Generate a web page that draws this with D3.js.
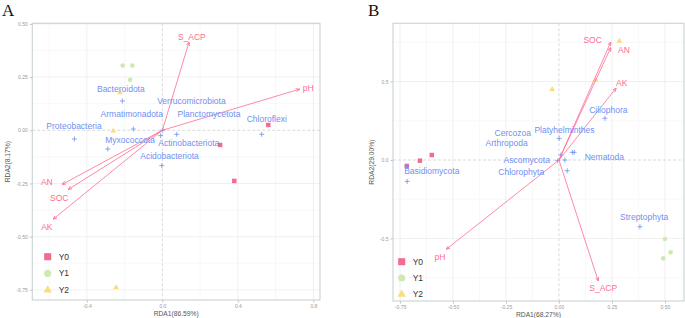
<!DOCTYPE html>
<html><head><meta charset="utf-8">
<script src="https://cdn.jsdelivr.net/npm/d3@7"></script>
<style>
body{margin:0;background:#fff;}
svg{display:block;font-family:"Liberation Sans",Arial,sans-serif;}
</style></head>
<body><svg id="chart" width="685" height="318"></svg>
<script>
// ---------- Panel A data ----------
const aSampleGroup = ["Y0","Y0","Y0","Y1","Y1","Y1","Y2","Y2","Y2"];
const aSampleX = [0.561, 0.306, 0.381, -0.210, -0.159, -0.171, -0.224, -0.260, -0.245];
const aSampleY = [0.025, -0.069, -0.238, 0.304, 0.304, 0.237, 0.177, -0.003, -0.739];
const aEnvNames = ["S_ACP","pH","AN","SOC","AK"];
const aEnvX = [0.141, 0.726, -0.530, -0.498, -0.577];
const aEnvY = [0.414, 0.193, -0.254, -0.278, -0.417];
const aEnvLabelX = [0.156, 0.772, -0.612, -0.546, -0.612];
const aEnvLabelY = [0.440, 0.199, -0.242, -0.317, -0.456];
const aSpecies = ["Bacteroidota","Verrucomicrobiota","Armatimonadota","Planctomycetota","Chloroflexi","Proteobacteria","Myxococcota","Actinobacteriota","Acidobacteriota"];
const aSpeciesX = [-0.212, 0.002, -0.154, 0.076, 0.526, -0.466, -0.289, -0.009, -0.003];
const aSpeciesY = [0.138, 0.001, 0.006, -0.019, -0.019, -0.041, -0.088, -0.025, -0.166];
const aSpeciesLabelX = [-0.220, 0.154, -0.162, 0.247, 0.553, -0.468, -0.171, 0.140, 0.038];
const aSpeciesLabelY = [0.193, 0.139, 0.075, 0.075, 0.052, 0.022, -0.046, -0.061, -0.121];
const aXTicks = [-0.4, 0.0, 0.4, 0.8];
const aXTickLabels = ["-0.4","0.0","0.4","0.8"];
const aXMinor = [-0.6, -0.2, 0.2, 0.6];
const aYTicks = [-0.75, -0.5, -0.25, 0.0, 0.25, 0.5];
const aYTickLabels = ["-0.75","-0.50","-0.25","0.00","0.25","0.50"];
const aYMinor = [-0.625, -0.375, -0.125, 0.125, 0.375];
const aXDomain = [-0.689, 0.835];
const aYDomain = [-0.798, 0.503];
const aXTitle = "RDA1(86.59%)";
const aYTitle = "RDA2(8.17%)";

// ---------- Panel B data ----------
const bSampleGroup = ["Y0","Y0","Y0","Y1","Y1","Y1","Y2","Y2","Y2"];
const bSampleX = [-0.656, -0.600, -0.718, 0.500, 0.527, 0.492, 0.285, 0.173, -0.032];
const bSampleY = [-0.004, 0.032, -0.038, -0.503, -0.588, -0.626, 0.758, 0.510, 0.450];
const bEnvNames = ["SOC","AN","AK","pH","S_ACP"];
const bEnvX = [0.244, 0.244, 0.269, -0.530, 0.185];
const bEnvY = [0.750, 0.715, 0.457, -0.567, -0.769];
const bEnvLabelX = [0.159, 0.307, 0.296, -0.561, 0.209];
const bEnvLabelY = [0.764, 0.701, 0.489, -0.620, -0.813];
const bSpecies = ["Ciliophora","Platyhelminthes","Cercozoa","Arthropoda","Nematoda","","Ascomycota","Chlorophyta","Basidiomycota","","Streptophyta"];
const bSpeciesX = [0.217, 0.001, 0.009, -0.006, 0.072, 0.063, 0.028, 0.039, -0.716, -0.718, 0.382];
const bSpeciesY = [0.266, 0.138, 0.032, -0.004, 0.049, 0.049, 0.000, -0.068, -0.136, -0.038, -0.425];
const bSpeciesLabelX = [0.233, 0.026, -0.218, -0.247, 0.214, null, -0.152, -0.178, -0.600, null, 0.402];
const bSpeciesLabelY = [0.318, 0.191, 0.174, 0.106, 0.017, null, 0.000, -0.075, -0.068, null, -0.361];
const bXTicks = [-0.75, -0.5, -0.25, 0.0, 0.25, 0.5];
const bXTickLabels = ["-0.75","-0.50","-0.25","0.00","0.25","0.50"];
const bXMinor = [-0.625, -0.375, -0.125, 0.125, 0.375];
const bYTicks = [-0.5, 0.0, 0.5];
const bYTickLabels = ["-0.5","0.0","0.5"];
const bYMinor = [-0.75, -0.25, 0.25, 0.75];
const bXDomain = [-0.783, 0.590];
const bYDomain = [-0.898, 0.871];
const bXTitle = "RDA1(68.27%)";
const bYTitle = "RDA2(29.00%)";

const groups = ["Y0","Y1","Y2"];

// ---------- styles ----------
const groupColor = {Y0:"#f36b92", Y1:"#cfe9b0", Y2:"#f9dc7c"};
const envColor = "#ff6b92";
const speciesColor = "#7090f2";
const svg = d3.select("#chart");

const defs = svg.append("defs");
defs.append("marker").attr("id","arr").attr("viewBox","0 0 10 10")
  .attr("refX",9).attr("refY",5).attr("markerWidth",4).attr("markerHeight",4)
  .attr("markerUnits","userSpaceOnUse").attr("orient","auto")
  .append("path").attr("d","M0,1 L10,5 L0,9").attr("fill","none")
  .attr("stroke",envColor).attr("stroke-width",2);

function drawPanel(o){
  const x = d3.scaleLinear().domain(o.xDomain).range([o.left, o.right]);
  const y = d3.scaleLinear().domain(o.yDomain).range([o.bottom, o.top]);
  const g = svg.append("g");
  // grid
  g.selectAll(".mx").data(o.xMinor).join("line")
    .attr("x1",d=>x(d)).attr("x2",d=>x(d)).attr("y1",o.top).attr("y2",o.bottom)
    .attr("stroke","#f4f4f4").attr("stroke-width",0.6);
  g.selectAll(".my").data(o.yMinor).join("line")
    .attr("y1",d=>y(d)).attr("y2",d=>y(d)).attr("x1",o.left).attr("x2",o.right)
    .attr("stroke","#f4f4f4").attr("stroke-width",0.6);
  g.selectAll(".Mx").data(o.xTicks.filter(d=>d!==0)).join("line")
    .attr("x1",d=>x(d)).attr("x2",d=>x(d)).attr("y1",o.top).attr("y2",o.bottom)
    .attr("stroke","#ececec").attr("stroke-width",0.8);
  g.selectAll(".My").data(o.yTicks.filter(d=>d!==0)).join("line")
    .attr("y1",d=>y(d)).attr("y2",d=>y(d)).attr("x1",o.left).attr("x2",o.right)
    .attr("stroke","#ececec").attr("stroke-width",0.8);
  // zero lines
  g.append("line").attr("x1",x(0)).attr("x2",x(0)).attr("y1",o.top).attr("y2",o.bottom)
    .attr("stroke","#d0d0d0").attr("stroke-width",0.8).attr("stroke-dasharray","3,2");
  g.append("line").attr("y1",y(0)).attr("y2",y(0)).attr("x1",o.left).attr("x2",o.right)
    .attr("stroke","#d0d0d0").attr("stroke-width",0.8).attr("stroke-dasharray","3,2");

  // axes
  const xAxis = d3.axisBottom(x).tickValues(o.xTicks).tickSize(2.5).tickPadding(2)
    .tickFormat((d,i)=>o.xTickLabels[i]);
  const ax = g.append("g").attr("transform",`translate(0,${o.bottom})`).call(xAxis);
  const yAxis = d3.axisLeft(y).tickValues(o.yTicks).tickSize(2.5).tickPadding(2)
    .tickFormat((d,i)=>o.yTickLabels[i]);
  const ay = g.append("g").attr("transform",`translate(${o.left},0)`).call(yAxis);
  [ax,ay].forEach(a=>{
    a.select(".domain").remove();
    a.selectAll(".tick line").attr("stroke","#aaaaaa").attr("stroke-width",0.7);
    a.selectAll(".tick text").attr("fill","#9a9a9a").style("font-size","5px")
      .style("font-family","Liberation Sans, Arial, sans-serif");
  });
  // frame
  g.append("rect").attr("x",o.left).attr("y",o.top).attr("width",o.right-o.left)
    .attr("height",o.bottom-o.top).attr("fill","none").attr("stroke","#c9d3d3").attr("stroke-width",1.1);

  // axis titles
  g.append("text").attr("x",(o.left+o.right)/2).attr("y",o.bottom+15.5)
    .attr("text-anchor","middle").attr("fill","#555").style("font-size","6.7px").text(o.xTitle);
  g.append("text").attr("transform",`translate(${o.yTitleX},${(o.top+o.bottom)/2}) rotate(-90)`)
    .attr("text-anchor","middle").attr("fill","#555").style("font-size","6.7px").text(o.yTitle);

  // panel letter
  svg.append("text").attr("x",o.letterX).attr("y",16).attr("fill","#111")
    .style("font-family","Liberation Serif, Times New Roman, serif").style("font-size","17px").text(o.letter);

  // samples
  const samples = o.sampleX.map((v,i)=>({x:v,y:o.sampleY[i],g:o.sampleGroup[i]}));
  const sym = {Y0:d3.symbolSquare, Y1:d3.symbolCircle, Y2:d3.symbolTriangle};
  const symSize = {Y0:20, Y1:17, Y2:14};
  g.selectAll(".s").data(samples).join("path")
    .attr("transform",d=>`translate(${x(d.x)},${y(d.y)})`)
    .attr("d",d=>d3.symbol(sym[d.g], symSize[d.g])())
    .attr("fill",d=>groupColor[d.g]);

  // species crosses
  const sp = o.species.map((n,i)=>({n,x:o.speciesX[i],y:o.speciesY[i],lx:o.speciesLabelX[i],ly:o.speciesLabelY[i]}));
  const cs = 2.5;
  const cg = g.selectAll(".c").data(sp).join("g").attr("transform",d=>`translate(${x(d.x)},${y(d.y)})`);
  cg.append("line").attr("x1",-cs).attr("x2",cs).attr("stroke",speciesColor).attr("stroke-width",0.8);
  cg.append("line").attr("y1",-cs).attr("y2",cs).attr("stroke",speciesColor).attr("stroke-width",0.8);

  // env arrows
  const env = o.envNames.map((n,i)=>({n,x:o.envX[i],y:o.envY[i],lx:o.envLabelX[i],ly:o.envLabelY[i]}));
  g.selectAll(".a").data(env).join("line")
    .attr("x1",x(0)).attr("y1",y(0)).attr("x2",d=>x(d.x)).attr("y2",d=>y(d.y))
    .attr("stroke",envColor).attr("stroke-width",0.8).attr("marker-end","url(#arr)");

  // labels
  g.selectAll(".sl").data(sp.filter(d=>d.n && d.lx!==null)).join("text")
    .attr("x",d=>x(d.lx)).attr("y",d=>y(d.ly)).attr("dy","0.35em").attr("text-anchor","middle")
    .attr("fill",speciesColor).style("font-size","8.5px").text(d=>d.n);
  g.selectAll(".el").data(env).join("text")
    .attr("x",d=>x(d.lx)).attr("y",d=>y(d.ly)).attr("dy","0.35em").attr("text-anchor","middle")
    .attr("fill",envColor).style("font-size","8.5px").text(d=>d.n);

  // legend
  const lg = g.append("g");
  const legSym = {Y0:d3.symbolSquare, Y1:d3.symbolCircle, Y2:d3.symbolTriangle};
  const legSize = {Y0:50, Y1:40, Y2:30};
  groups.forEach((k,i)=>{
    const yy = o.legendY + i*o.legendStep;
    lg.append("path").attr("transform",`translate(${o.legendX},${yy})`)
      .attr("d",d3.symbol(legSym[k], legSize[k])()).attr("fill",groupColor[k]);
    lg.append("text").attr("x",o.legendX+11).attr("y",yy).attr("dy","0.35em")
      .attr("fill","#333").style("font-size","8.5px").text(k);
  });
}

drawPanel({left:32.3,right:320,top:23.3,bottom:300,
  xDomain:aXDomain,yDomain:aYDomain,xTicks:aXTicks,xTickLabels:aXTickLabels,xMinor:aXMinor,
  yTicks:aYTicks,yTickLabels:aYTickLabels,yMinor:aYMinor,xTitle:aXTitle,yTitle:aYTitle,yTitleX:10,
  letter:"A",letterX:2,
  sampleX:aSampleX,sampleY:aSampleY,sampleGroup:aSampleGroup,
  envNames:aEnvNames,envX:aEnvX,envY:aEnvY,envLabelX:aEnvLabelX,envLabelY:aEnvLabelY,
  species:aSpecies,speciesX:aSpeciesX,speciesY:aSpeciesY,speciesLabelX:aSpeciesLabelX,speciesLabelY:aSpeciesLabelY,
  legendX:47.7,legendY:256.7,legendStep:16.7});

drawPanel({left:393,right:684,top:23.3,bottom:301,
  xDomain:bXDomain,yDomain:bYDomain,xTicks:bXTicks,xTickLabels:bXTickLabels,xMinor:bXMinor,
  yTicks:bYTicks,yTickLabels:bYTickLabels,yMinor:bYMinor,xTitle:bXTitle,yTitle:bYTitle,yTitleX:374,
  letter:"B",letterX:368,
  sampleX:bSampleX,sampleY:bSampleY,sampleGroup:bSampleGroup,
  envNames:bEnvNames,envX:bEnvX,envY:bEnvY,envLabelX:bEnvLabelX,envLabelY:bEnvLabelY,
  species:bSpecies,speciesX:bSpeciesX,speciesY:bSpeciesY,speciesLabelX:bSpeciesLabelX,speciesLabelY:bSpeciesLabelY,
  legendX:401.7,legendY:261.7,legendStep:16.3});
</script>
</body></html>
